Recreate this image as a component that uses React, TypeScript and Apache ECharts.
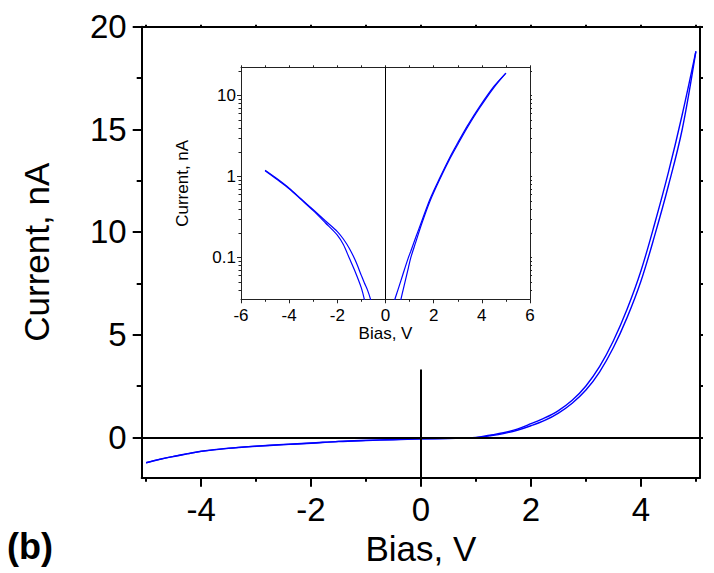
import React, { useEffect, useRef } from "react";
import * as echarts from "echarts";

// ---- main plot data (signed current, nA vs bias, V) ----
const bias = [-5, -4.75, -4.5, -4.25, -4, -3.5, -3, -2.5, -2, -1.5, -1, -0.5, 0, 0.5, 1, 1.25, 1.5, 1.75, 2, 2.25, 2.5, 2.75, 3, 3.25, 3.5, 3.75, 4, 4.25, 4.5, 4.75, 5];
const currentUp = [-1.24, -1.07, -0.93, -0.8, -0.68, -0.53, -0.43, -0.35, -0.28, -0.2, -0.15, -0.11, -0.07, -0.05, -0.01, 0.1, 0.22, 0.4, 0.66, 0.94, 1.3, 1.8, 2.5, 3.45, 4.7, 6.25, 8.1, 10.4, 12.9, 15.7, 18.8];
const currentDown = [-1.24, -1.08, -0.94, -0.81, -0.69, -0.54, -0.44, -0.36, -0.29, -0.21, -0.16, -0.12, -0.08, -0.06, -0.02, 0.07, 0.18, 0.34, 0.56, 0.82, 1.18, 1.66, 2.3, 3.19, 4.37, 5.84, 7.6, 9.82, 12.25, 14.98, 18.8];

// ---- inset data (|current|, nA, log scale) ----
const insetNegBias = [-5, -4.5, -4, -3.5, -3, -2.5, -2, -1.75, -1.5, -1.25, -1, -0.88, -0.75, -0.62, -0.5];
const insetNegUpper = [1.2, 0.94, 0.72, 0.53, 0.39, 0.285, 0.21, 0.17, 0.13, 0.092, 0.06, 0.049, 0.04, 0.0306, 0.022];
const insetNegLower = [1.18, 0.92, 0.71, 0.52, 0.38, 0.27, 0.19, 0.145, 0.098, 0.066, 0.042, 0.0306, 0.02, 0.014, 0.01];
const insetPosBias = [0.25, 0.4, 0.5, 0.64, 0.75, 0.95, 1.05, 1.25, 1.5, 1.85, 2.25, 2.7, 3.0, 3.4, 3.9, 4.5, 5];
const insetPosUpper = [0.022, 0.0313, 0.0386, 0.052, 0.066, 0.1, 0.12, 0.176, 0.28, 0.53, 0.96, 1.8, 2.62, 4.24, 7.28, 13.0, 19.0];
const insetPosLower = [0.01, 0.016, 0.02, 0.0306, 0.042, 0.075, 0.1, 0.153, 0.26, 0.5, 0.92, 1.72, 2.5, 4.05, 7.0, 12.6, 19.0];

// ---- tick values ----
const mainXMajor = [-4, -2, 0, 2, 4];
const mainXMinor = [-5, -3, -1, 1, 3, 5];
const mainXTop = [-5, -4, -3, -2, -1, 0, 1, 2, 3, 4, 5];
const mainYMajor = [0, 5, 10, 15, 20];
const mainYMinor = [2.5, 7.5, 12.5, 17.5];
const mainYRight = [0, 2.5, 5, 7.5, 10, 12.5, 15, 17.5, 20];
const insetXTop = [-6, -5, -4, -3, -2, -1, 0, 1, 2, 3, 4, 5, 6];
const insetYMajor = [0.1, 1, 10];
const insetYMinor = [0.04, 0.05, 0.06, 0.07, 0.08, 0.09, 0.2, 0.3, 0.4, 0.5, 0.6, 0.7, 0.8, 0.9, 2, 3, 4, 5, 6, 7, 8, 9, 20];

const FONT = "'Liberation Sans', Arial, sans-serif";
const BLUE = "#0000ff";

const pairs = (xs: number[], ys: number[]) => xs.map((x, i) => [x, ys[i]]);

export default function App() {
  const ref = useRef<HTMLDivElement>(null);
  useEffect(() => {
    if (!ref.current) return;
    const chart = echarts.init(ref.current, null, { renderer: "svg" });

    const tickAxis = (base: any, values: number[], len: number, color: string, width: number, showLine: boolean) => ({
      ...base,
      axisLine: { show: showLine, onZero: false, lineStyle: { color, width } },
      axisTick: { show: true, inside: false, length: len, customValues: values, lineStyle: { color, width } },
      axisLabel: { show: false },
      splitLine: { show: false },
      minorTick: { show: false },
    });

    const mainX = { type: "value", gridIndex: 0, min: -5.08, max: 5.075 };
    const mainY = { type: "value", gridIndex: 0, min: -1.97, max: 20 };
    const insetX = { type: "value", gridIndex: 1, min: -6, max: 6 };
    const insetY = { type: "log", logBase: 10, gridIndex: 1, min: 0.0306, max: 22.4 };

    const option: any = {
      animation: false,
      backgroundColor: "#ffffff",
      textStyle: { fontFamily: FONT },
      grid: [
        { left: 141.7, top: 26.7, width: 558.3, height: 451 },
        { left: 241, top: 67.3, width: 289, height: 232 },
      ],
      xAxis: [
        {
          ...tickAxis({ ...mainX, position: "bottom" }, mainXMajor, 9, "#000", 2, true),
          axisLabel: { show: true, customValues: mainXMajor, margin: 15, fontSize: 33, color: "#000", fontFamily: FONT },
          name: "Bias, V",
          nameLocation: "middle",
          nameGap: 51,
          nameTextStyle: { fontSize: 35, color: "#000", fontFamily: FONT },
        },
        tickAxis({ ...mainX, position: "bottom" }, mainXMinor, 4, "#000", 2, false),
        tickAxis({ ...mainX, position: "top" }, mainXTop, 2, "#000", 2, true),
        {
          ...tickAxis({ ...insetX, position: "bottom" }, [-6, -4, -2, 0, 2, 4, 6], 4, "#222", 1, true),
          axisTick: { show: true, length: 4, lineStyle: { color: "#222", width: 1 } },
          interval: 2,
          minorTick: { show: true, splitNumber: 2, length: 2.5, lineStyle: { color: "#222", width: 1 } },
          axisLabel: { show: true, margin: 8, fontSize: 17, color: "#000", fontFamily: FONT },
          name: "Bias, V",
          nameLocation: "middle",
          nameGap: 26,
          nameTextStyle: { fontSize: 17, color: "#000", fontFamily: FONT },
        },
        tickAxis({ ...insetX, position: "top" }, insetXTop, 2, "#222", 1, true),
      ],
      yAxis: [
        {
          ...tickAxis({ ...mainY, position: "left" }, mainYMajor, 9, "#000", 2, true),
          axisLabel: { show: true, customValues: mainYMajor, margin: 15, fontSize: 33, color: "#000", fontFamily: FONT },
          name: "Current, nA",
          nameLocation: "middle",
          nameGap: 88,
          nameRotate: 90,
          nameTextStyle: { fontSize: 35, color: "#000", fontFamily: FONT },
        },
        tickAxis({ ...mainY, position: "left" }, mainYMinor, 5, "#000", 2, false),
        tickAxis({ ...mainY, position: "right" }, mainYRight, 3, "#000", 2, true),
        {
          ...tickAxis({ ...insetY, position: "left" }, insetYMajor, 4, "#222", 1, true),
          axisLabel: {
            show: true,
            customValues: insetYMajor,
            margin: 5,
            fontSize: 17,
            color: "#000",
            fontFamily: FONT,
            formatter: (v: number) => String(v),
          },
          name: "Current, nA",
          nameLocation: "middle",
          nameGap: 50,
          nameRotate: 90,
          nameTextStyle: { fontSize: 17, color: "#000", fontFamily: FONT },
        },
        tickAxis({ ...insetY, position: "left" }, insetYMinor, 2.5, "#222", 1, false),
        tickAxis({ ...insetY, position: "right" }, [...insetYMajor, ...insetYMinor], 2, "#222", 1, true),
      ],
      graphic: [
        {
          type: "text",
          left: 7,
          top: 528,
          style: { text: "(b)", font: `bold 36px ${FONT}`, fill: "#000" },
        },
      ],
      series: [
        {
          type: "line",
          xAxisIndex: 0,
          yAxisIndex: 0,
          data: pairs(bias, currentUp),
          smooth: 0.35,
          symbol: "none",
          lineStyle: { color: BLUE, width: 1.4 },
          silent: true,
          z: 3,
          markLine: {
            silent: true,
            symbol: ["none", "none"],
            label: { show: false },
            lineStyle: { color: "#000", width: 2, type: "solid" },
            data: [{ yAxis: 0 }, [{ coord: [0, -1.97] }, { coord: [0, 3.3] }]],
          },
        },
        {
          type: "line",
          xAxisIndex: 0,
          yAxisIndex: 0,
          data: pairs(bias, currentDown),
          smooth: 0.35,
          symbol: "none",
          lineStyle: { color: BLUE, width: 1.4 },
          silent: true,
          z: 3,
        },
        ...[
          [insetNegBias, insetNegUpper],
          [insetNegBias, insetNegLower],
          [insetPosBias, insetPosUpper],
          [insetPosBias, insetPosLower],
        ].map(([xs, ys], i) => ({
          type: "line",
          xAxisIndex: 3,
          yAxisIndex: 3,
          data: pairs(xs, ys),
          smooth: 0.3,
          clip: true,
          symbol: "none",
          lineStyle: { color: BLUE, width: 1.2 },
          silent: true,
          ...(i === 0
            ? {
                markLine: {
                  silent: true,
                  symbol: ["none", "none"],
                  label: { show: false },
                  lineStyle: { color: "#000", width: 1, type: "solid" },
                  data: [{ xAxis: 0 }],
                },
              }
            : {}),
        })),
      ],
    };

    chart.setOption(option);
    return () => chart.dispose();
  }, []);

  return <div ref={ref} style={{ width: 714, height: 573, position: "absolute", left: 0, top: 0 }} />;
}
